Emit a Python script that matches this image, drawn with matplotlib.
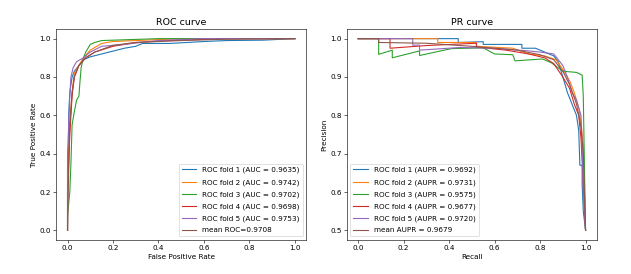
import matplotlib
matplotlib.use("Agg")
import matplotlib.pyplot as plt

# ROC curves (fpr, tpr) per fold
roc_fpr_1 = [0, 0, 0.005, 0.005, 0.01, 0.015, 0.02, 0.03, 0.05, 0.07, 0.1, 0.15, 0.2, 0.25, 0.3, 0.33, 0.45, 0.6, 0.7, 0.86, 1.0]
roc_tpr_1 = [0, 0.35, 0.45, 0.6, 0.72, 0.76, 0.8, 0.83, 0.86, 0.89, 0.905, 0.92, 0.935, 0.95, 0.96, 0.975, 0.975, 0.985, 0.99, 0.992, 1.0]
roc_fpr_2 = [0, 0, 0.01, 0.02, 0.03, 0.05, 0.07, 0.1, 0.15, 0.2, 0.3, 0.5, 1.0]
roc_tpr_2 = [0, 0.3, 0.55, 0.72, 0.82, 0.86, 0.9, 0.94, 0.975, 0.985, 0.99, 1.0, 1.0]
roc_fpr_3 = [0, 0, 0.01, 0.015, 0.02, 0.03, 0.04, 0.05, 0.055, 0.06, 0.07, 0.08, 0.09, 0.1, 0.12, 0.15, 0.4, 1.0]
roc_tpr_3 = [0, 0.08, 0.2, 0.35, 0.55, 0.62, 0.68, 0.70, 0.78, 0.85, 0.9, 0.93, 0.95, 0.97, 0.98, 0.99, 1.0, 1.0]
roc_fpr_4 = [0, 0, 0.01, 0.02, 0.03, 0.05, 0.08, 0.12, 0.2, 0.3, 0.45, 0.7, 1.0]
roc_tpr_4 = [0, 0.2, 0.5, 0.7, 0.8, 0.86, 0.9, 0.93, 0.96, 0.98, 0.99, 1.0, 1.0]
roc_fpr_5 = [0, 0, 0.01, 0.015, 0.025, 0.04, 0.07, 0.1, 0.15, 0.25, 0.4, 0.6, 1.0]
roc_tpr_5 = [0, 0.4, 0.7, 0.8, 0.85, 0.88, 0.9, 0.93, 0.96, 0.97, 0.99, 1.0, 1.0]
roc_fpr_mean = [0, 0.005, 0.01, 0.02, 0.03, 0.05, 0.08, 0.12, 0.2, 0.3, 0.5, 0.7, 1.0]
roc_tpr_mean = [0, 0.3, 0.55, 0.72, 0.8, 0.86, 0.9, 0.93, 0.965, 0.98, 0.99, 0.997, 1.0]
roc_auc = [0.9635, 0.9742, 0.9702, 0.9698, 0.9753]
roc_mean_auc = 0.9708

# PR curves (recall, precision) per fold
pr_rec_1 = [0, 0.44, 0.44, 0.55, 0.55, 0.72, 0.72, 0.78, 0.82, 0.86, 0.88, 0.90, 0.92, 0.94, 0.96, 0.97, 0.975, 0.985, 0.985, 0.99, 1.0]
pr_pre_1 = [1.0, 1.0, 0.99, 0.992, 0.985, 0.985, 0.975, 0.975, 0.965, 0.955, 0.94, 0.90, 0.86, 0.83, 0.80, 0.76, 0.67, 0.67, 0.62, 0.55, 0.5]
pr_rec_2 = [0, 0.35, 0.35, 0.52, 0.52, 0.68, 0.75, 0.82, 0.87, 0.9, 0.93, 0.95, 0.97, 0.98, 0.99, 0.995, 1.0]
pr_pre_2 = [1.0, 1.0, 0.99, 0.99, 0.98, 0.975, 0.96, 0.955, 0.945, 0.92, 0.89, 0.86, 0.82, 0.78, 0.72, 0.62, 0.5]
pr_rec_3 = [0, 0.09, 0.09, 0.15, 0.15, 0.27, 0.27, 0.41, 0.55, 0.6, 0.68, 0.69, 0.81, 0.85, 0.9, 0.96, 0.985, 0.99, 0.995, 1.0]
pr_pre_3 = [1.0, 1.0, 0.959, 0.97, 0.95, 0.968, 0.956, 0.974, 0.976, 0.96, 0.958, 0.942, 0.947, 0.937, 0.915, 0.912, 0.905, 0.85, 0.67, 0.5]
pr_rec_4 = [0, 0.14, 0.14, 0.3, 0.52, 0.52, 0.65, 0.75, 0.82, 0.86, 0.9, 0.93, 0.95, 0.97, 0.98, 0.99, 1.0]
pr_pre_4 = [1.0, 1.0, 0.975, 0.982, 0.988, 0.978, 0.97, 0.96, 0.95, 0.935, 0.9, 0.87, 0.83, 0.8, 0.74, 0.62, 0.5]
pr_rec_5 = [0, 0.24, 0.24, 0.27, 0.27, 0.45, 0.6, 0.75, 0.8, 0.86, 0.88, 0.9, 0.92, 0.94, 0.96, 0.98, 0.985, 0.99, 1.0]
pr_pre_5 = [1.0, 1.0, 0.983, 0.983, 0.97, 0.977, 0.975, 0.968, 0.965, 0.96, 0.945, 0.93, 0.9, 0.86, 0.84, 0.8, 0.72, 0.6, 0.5]
pr_rec_mean = [0, 0.09, 0.09, 0.3, 0.5, 0.7, 0.8, 0.86, 0.9, 0.93, 0.96, 0.98, 0.99, 1.0]
pr_pre_mean = [1.0, 1.0, 0.99, 0.988, 0.98, 0.97, 0.958, 0.945, 0.915, 0.88, 0.83, 0.77, 0.7, 0.5]
pr_auc = [0.9692, 0.9731, 0.9575, 0.9677, 0.9720]
pr_mean_auc = 0.9679

DPI = 52.6
fig, (ax1, ax2) = plt.subplots(1, 2, figsize=(631 / DPI, 274 / DPI), dpi=DPI)
fig.subplots_adjust(left=0.089, right=0.946, bottom=0.124, top=0.894, wspace=0.162)

roc_folds = [(roc_fpr_1, roc_tpr_1), (roc_fpr_2, roc_tpr_2), (roc_fpr_3, roc_tpr_3),
             (roc_fpr_4, roc_tpr_4), (roc_fpr_5, roc_tpr_5)]
for i, (fpr, tpr) in enumerate(roc_folds):
    ax1.plot(fpr, tpr, label=f"ROC fold {i + 1} (AUC = {roc_auc[i]:.4f})")
ax1.plot(roc_fpr_mean, roc_tpr_mean, color="C5", label=f"mean ROC={roc_mean_auc:.4f}")
ax1.set_xlabel("False Positive Rate")
ax1.set_ylabel("True Positive Rate")
ax1.set_title("ROC curve", fontsize=13)
ax1.legend(loc="lower right", labelspacing=0.75)

pr_folds = [(pr_rec_1, pr_pre_1), (pr_rec_2, pr_pre_2), (pr_rec_3, pr_pre_3),
            (pr_rec_4, pr_pre_4), (pr_rec_5, pr_pre_5)]
for i, (rec, pre) in enumerate(pr_folds):
    ax2.plot(rec, pre, label=f"ROC fold {i + 1} (AUPR = {pr_auc[i]:.4f})")
ax2.plot(pr_rec_mean, pr_pre_mean, color="C5", label=f"mean AUPR = {pr_mean_auc:.4f}")
ax2.set_xlabel("Recall")
ax2.set_ylabel("Precision")
ax2.set_title("PR curve", fontsize=13)
ax2.legend(loc="lower left", labelspacing=0.75)

fig.savefig("out.png", dpi=DPI)
